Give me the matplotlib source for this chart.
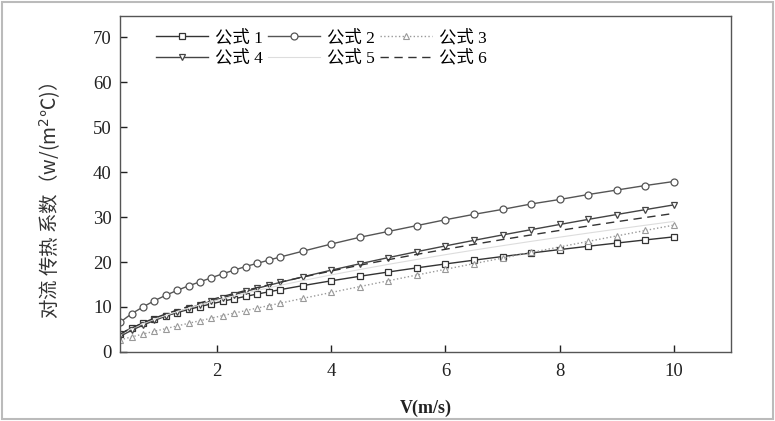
import matplotlib
matplotlib.use("Agg")
import matplotlib.pyplot as plt
from matplotlib.patches import Rectangle

# 风速 V (m/s)
v = [0.3, 0.5, 0.7, 0.9, 1.1, 1.3, 1.5, 1.7, 1.9, 2.1, 2.3, 2.5, 2.7, 2.9, 3.1,
     3.5, 4.0, 4.5, 5.0, 5.5, 6.0, 6.5, 7.0, 7.5, 8.0, 8.5, 9.0, 9.5, 10.0]

# 对流传热系数 w/(m2 C)，各公式
h1 = [4.06, 5.31, 6.34, 7.23, 8.03, 8.77, 9.45, 10.09, 10.70, 11.28, 11.83, 12.36, 12.87, 13.36, 13.84,
      14.75, 15.82, 16.83, 17.78, 18.70, 19.57, 20.41, 21.22, 22.00, 22.76, 23.50, 24.21, 24.91, 25.59]
h2 = [6.6, 8.5, 10.0, 11.4, 12.6, 13.7, 14.7, 15.6, 16.5, 17.4, 18.2, 19.0, 19.7, 20.4, 21.1,
      22.4, 24.0, 25.5, 26.8, 28.1, 29.4, 30.6, 31.7, 32.9, 33.9, 35.0, 36.0, 37.0, 37.9]
h3 = [2.68, 3.34, 3.98, 4.59, 5.20, 5.79, 6.38, 6.95, 7.52, 8.09, 8.64, 9.20, 9.75, 10.29, 10.83,
      11.91, 13.23, 14.54, 15.83, 17.11, 18.38, 19.64, 20.88, 22.12, 23.35, 24.58, 25.80, 27.01, 28.20]
h4 = [3.47, 4.81, 5.96, 7.00, 7.96, 8.86, 9.71, 10.52, 11.30, 12.04, 12.76, 13.46, 14.14, 14.81, 15.45,
      16.70, 18.19, 19.61, 20.98, 22.30, 23.58, 24.82, 26.02, 27.19, 28.34, 29.47, 30.56, 31.64, 32.70]
h5 = [3.86, 5.18, 6.29, 7.27, 8.15, 8.98, 9.75, 10.47, 11.17, 11.83, 12.46, 13.07, 13.67, 14.24, 14.80,
      15.87, 17.13, 18.33, 19.48, 20.57, 21.63, 22.65, 23.63, 24.59, 25.52, 26.43, 27.31, 28.17, 29.02]
h6 = [3.95, 5.32, 6.48, 7.51, 8.45, 9.32, 10.13, 10.90, 11.64, 12.34, 13.02, 13.67, 14.30, 14.91, 15.51,
      16.65, 18.00, 19.29, 20.52, 21.70, 22.83, 23.93, 24.99, 26.02, 27.02, 28.00, 28.96, 29.89, 30.80]

labels = ["公式 1", "公式 2", "公式 3", "公式 4", "公式 5", "公式 6"]
xticks = [2, 4, 6, 8, 10]
yticks = [0, 10, 20, 30, 40, 50, 60, 70]

serif = ["Liberation Serif", "DejaVu Serif"]
cjk = ["Liberation Serif", "Noto Sans CJK SC", "DejaVu Sans"]

fig = plt.figure(figsize=(7.75, 4.21), dpi=100)
ax = fig.add_axes([0.155, 0.164, 0.788, 0.798])

dark = "#333333"
l1, = ax.plot(v, h1, "-", color=dark, lw=1.0, marker="s", ms=4.5, mfc="white", mec=dark, mew=0.9)
l2, = ax.plot(v, h2, "-", color="#555555", lw=1.0, marker="o", ms=5, mfc="white", mec="#555555", mew=0.9)
l3, = ax.plot(v, h3, ":", color="#999999", lw=1.0, marker="^", ms=4, mfc="white", mec="#999999", mew=0.8)
l4, = ax.plot(v, h4, "-", color="#444444", lw=1.0, marker="v", ms=5, mfc="white", mec="#444444", mew=0.9)
l5, = ax.plot(v, h5, "-", color="#dddddd", lw=0.8)
l6, = ax.plot(v, h6, "--", color=dark, lw=1.0, dashes=(6, 4))

handles = [l1, l4, l2, l5, l3, l6]
leg_labels = [labels[0], labels[3], labels[1], labels[4], labels[2], labels[5]]
ax.legend(handles, leg_labels, ncol=3, loc="upper left", bbox_to_anchor=(0.033, 1.005),
          frameon=False, prop={"family": cjk, "size": 12.5}, handlelength=3.0,
          handletextpad=0.4, columnspacing=0.3, labelspacing=0.2)

ax.set_xlim(0.3, 11.0)
ax.set_ylim(0, 74.7)
ax.set_xticks(xticks)
ax.set_yticks(yticks)
ax.tick_params(direction="in", length=5, width=1, labelsize=13.5, colors="#222222")
ax.tick_params(axis="x", pad=8)
ax.tick_params(axis="y", pad=6)
for lab in ax.get_xticklabels() + ax.get_yticklabels():
    lab.set_family(serif)
for s in ax.spines.values():
    s.set_color("#555555")
    s.set_linewidth(1.0)

ax.set_xlabel("V(m/s)", family=serif, fontsize=13, fontweight="bold", color="#222222", labelpad=14)
ax.set_ylabel("对流 传热 系数（w/(m$^2$℃)）", family=["Noto Sans CJK SC", "DejaVu Sans"],
              fontsize=14, color="#333333")
ax.yaxis.set_label_coords(-0.094, 0.45)

fig.patches.append(Rectangle((0.003, 0.005), 0.994, 0.99, transform=fig.transFigure,
                             fill=False, edgecolor="#bbbbbb", lw=1.5))

fig.savefig("out.png", dpi=100)
